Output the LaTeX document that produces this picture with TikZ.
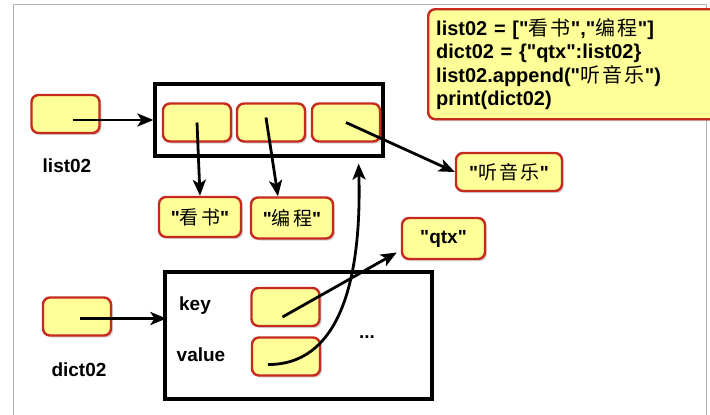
\documentclass[tikz,border=0pt]{standalone}
\usepackage{fontspec}
\setmainfont{Liberation Sans}[Ligatures=TeXOff]
\newfontfamily\cjk{Noto Sans CJK SC}[BoldFont=Noto Sans CJK SC, LetterSpace=12]
\newcommand{\zh}[1]{{\cjk\mdseries #1}}
\usetikzlibrary{arrows.meta, positioning, calc, shadows}
\definecolor{boxfill}{HTML}{FFFF99}
\definecolor{boxedge}{HTML}{C62A1E}

\begin{document}
\begin{tikzpicture}[x=1pt, y=-1pt,
  cell/.style={draw=boxedge, fill=boxfill, line width=2.4pt, rounded corners=7pt,
    minimum width=68pt, minimum height=38pt, inner sep=0pt,
    font=\bfseries\fontsize{19}{22}\selectfont,
    drop shadow={shadow xshift=2pt, shadow yshift=-2pt, opacity=0.35}},
  frame/.style={draw, fill=white, line width=3.2pt, inner sep=0pt,
    drop shadow={shadow xshift=2pt, shadow yshift=-2pt, opacity=0.3}},
  lab/.style={font=\bfseries\fontsize{19}{22}\selectfont},
  ptr/.style={line width=2.8pt, -{Stealth[length=16pt, width=13pt, inset=4pt]}}]
  \useasboundingbox (0,0) rectangle (710,415);

  % Canvas edge
  \draw[gray!60, line width=1pt] (13,415) -- (13,4) -- (706,4) -- (706,415);

  % Frames
  \node[frame, minimum width=228pt, minimum height=72pt] (lframe) at (269,120) {};
  \node[frame, minimum width=267pt, minimum height=127pt] (dframe) at (298.5,335.5) {};

  % Code
  \node[cell, anchor=north west, minimum width=292pt, minimum height=110pt,
    text width=276pt, align=left, inner sep=8pt, font=\bfseries\fontsize{20}{23.5}\selectfont]
    (code) at (427,8) {list02 = ["\zh{看书}","\zh{编程}"]\\
      dict02 = \{"qtx":list02\}\\
      list02.append("\zh{听音乐}")\\
      print(dict02)};

  % list02
  \node[cell] (lst) at (65.5,114) {};
  \node[lab] (lstlab) at (67,166) {list02};
  \node[cell] (b1) at (197,122.5) {};
  \node[cell] (b2) at (271,122.5) {};
  \node[cell] (b3) at (346,122.5) {};
  \node[cell, minimum width=82pt, minimum height=40pt] (kanshu) at (200,217) {"\zh{看书}"};
  \node[cell, minimum width=82pt, minimum height=41pt] (biancheng) at (292,218) {"\zh{编程}"};
  \node[cell, minimum width=106pt] (tingyinyue) at (509,172) {"\zh{听音乐}"};

  % dict02
  \node[cell] (dct) at (77,316.5) {};
  \node[lab] (dctlab) at (79,370) {dict02};
  \node[lab] (keylab) at (195,306) {key};
  \node[lab] (vallab) at (201,355) {value};
  \node[cell] (kbox) at (285.5,307) {};
  \node[cell] (vbox) at (286,356.5) {};
  \node[lab] (more) at (367,337) {...};
  \node[cell, minimum width=83pt, minimum height=41pt] (qtx) at (443.5,238.5) {"qtx"};

  % Pointers
  \draw[ptr] ([xshift=7pt]lst.center |- lframe.west) -- (lframe.west);
  \draw[ptr] (b1.center) -- (kanshu.north);
  \draw[ptr] ([shift={(-5,-5)}]b2.center) -- ([xshift=-14pt]biancheng.north);
  \draw[ptr] (b3.center) -- (tingyinyue.west);
  \draw[ptr] ([shift={(3,2)}]dct.center) -- ([shift={(3,2)}]dct.center -| dframe.west);
  \draw[ptr] ([shift={(-3,10)}]kbox.center) -- ([shift={(-4,14)}]qtx.west);
  \draw[ptr] ([shift={(-18,8)}]vbox.center) .. controls (335,365) and (362,290) .. ([shift={(-26,6)}]lframe.south east);

\end{tikzpicture}
\end{document}
